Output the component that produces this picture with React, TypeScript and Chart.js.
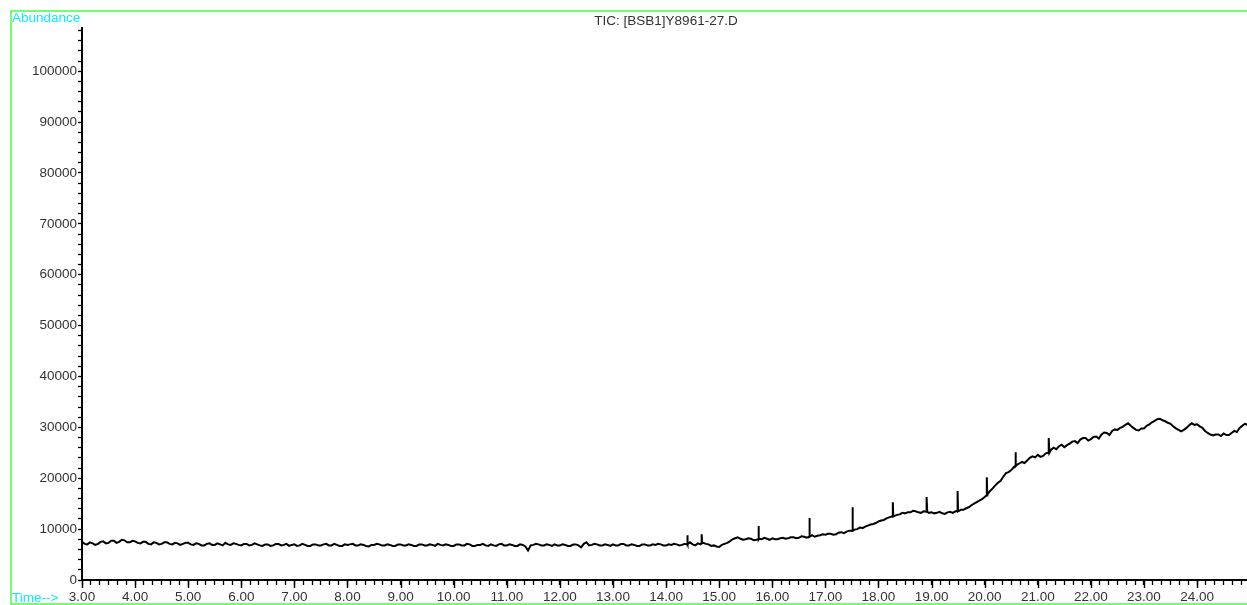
import { useEffect, useRef } from "react";
import { Chart, registerables } from "chart.js";

Chart.register(...registerables);

// ---- text ----
const TITLE = "TIC: [BSB1]Y8961-27.D";
const Y_TITLE = "Abundance";
const X_TITLE = "Time-->";

// ---- axis ranges ----
const X_MIN = 3.0;
const X_MAX = 24.94;
const Y_MIN = 0;
const Y_MAX = 108500;
const Y_MAJOR = 10000;
const Y_MINOR = 2000;
const X_MINOR_PER_MAJOR = 6;

// ---- TIC trace, sampled every 0.05 min starting at 3.00 min ----
const T_START = 3.0;
const T_STEP = 0.05;
const abundance = [
  // 3.00 - 3.95
  7500, 7100, 7000, 7400, 7200, 6900, 7100, 7500, 7600, 7200, 7300, 7700, 7700, 7300, 7500, 7900, 7800, 7400, 7400, 7700,
  // 4
  7600, 7300, 7200, 7500, 7500, 7100, 7000, 7400, 7300, 7000, 7100, 7400, 7400, 7100, 7000, 7300, 7200, 6900, 7100, 7300,
  // 5
  7300, 7000, 6900, 7200, 7100, 6800, 6800, 7100, 7200, 6900, 6900, 7200, 7000, 6800, 7300, 7000, 6900, 7200, 7100, 6900,
  // 6
  6800, 7100, 7100, 6800, 6900, 7200, 7000, 6800, 6700, 7000, 7000, 6700, 6800, 7100, 7100, 6800, 6900, 7100, 6700, 6900,
  // 7
  7000, 6700, 6800, 7100, 6900, 6700, 6700, 7000, 7000, 6800, 6800, 7000, 7100, 6800, 6800, 7100, 6900, 6700, 6700, 7000,
  // 8
  6900, 7000, 7100, 6800, 6800, 7000, 6900, 6700, 6600, 6900, 6900, 7100, 7000, 6800, 6800, 7000, 6900, 6700, 6700, 7000,
  // 9
  7000, 6800, 6800, 7000, 6900, 6700, 6700, 7000, 7000, 6800, 6800, 7000, 6900, 6700, 7100, 6900, 6800, 7000, 6900, 6700,
  // 10
  6700, 7000, 7000, 6800, 6800, 7100, 7000, 6700, 6700, 6900, 6900, 7100, 6800, 6700, 7000, 6800, 6700, 7000, 7100, 6800,
  // 11
  6800, 7000, 6900, 6700, 6700, 7000, 6900, 6600, 5800, 6800, 6900, 7100, 7000, 6800, 6800, 7000, 6900, 6700, 7000, 6800,
  // 12
  6800, 7000, 6900, 6700, 6700, 7000, 7000, 6800, 6400, 7100, 7400, 6800, 6900, 7100, 7000, 6800, 6800, 7000, 6900, 6700,
  // 13
  7000, 6800, 6800, 7100, 7100, 6800, 6800, 7000, 6900, 6700, 6700, 7000, 7000, 6800, 6800, 7000, 6900, 7100, 7000, 6800,
  // 14
  6800, 7000, 6900, 7100, 7000, 6800, 6900, 7100, 7100, 7400, 7000, 6800, 7200, 7000, 7300, 7100, 7000, 6700, 6800, 6600,
  // 15
  6500, 6900, 7100, 7300, 7600, 8000, 8200, 8400, 8100, 7900, 8000, 8200, 8100, 7800, 7900, 8100, 8000, 8300, 8100, 7900,
  // 16
  8200, 8000, 8000, 8200, 8300, 8100, 8200, 8400, 8400, 8200, 8300, 8600, 8500, 8300, 8600, 8800, 8500, 8700, 8800, 9000,
  // 17
  8900, 9100, 9100, 8900, 9000, 9300, 9400, 9200, 9500, 9700, 9700, 9900, 10000, 10300, 10200, 10500, 10700, 10900, 11000, 11200,
  // 18
  11500, 11700, 11800, 12100, 12300, 12500, 12600, 12800, 12900, 13200, 13100, 13300, 13300, 13600, 13500, 13300, 13200, 13500, 13400, 13200,
  // 19
  13300, 13100, 13200, 13400, 13100, 13000, 13300, 13400, 13200, 13500, 13500, 13800, 13800, 14100, 14300, 14700, 15000, 15300, 15600, 15900,
  // 20
  16300, 16800, 17500, 18000, 18600, 19100, 19500, 20300, 21000, 21200, 21600, 22200, 22600, 22900, 23200, 23000, 23500, 24000, 24300, 24100,
  // 21
  24600, 24200, 24400, 24900, 25000, 25600, 26000, 25700, 26300, 26600, 26100, 26500, 26800, 27200, 27300, 26900, 27600, 27900, 27900, 27400,
  // 22
  27700, 28100, 28200, 27800, 28600, 29000, 28900, 28500, 29300, 29600, 29500, 29900, 30100, 30500, 30800, 30300, 29900, 29500, 29400, 29800,
  // 23
  29800, 30300, 30600, 31000, 31300, 31600, 31700, 31400, 31200, 30900, 30700, 30200, 29800, 29500, 29200, 29500, 29900, 30400, 30800, 30500,
  // 24
  30600, 30200, 29900, 29300, 28900, 28600, 28400, 28600, 28600, 28300, 28800, 28500, 28500, 28900, 29300, 29100, 29900, 30300, 30700, 30500,
];

// ---- narrow peaks (time, apex, local baseline) ----
const spikeTimes = [14.4, 14.67, 15.74, 16.7, 17.51, 18.27, 18.91, 19.49, 20.04, 20.58, 21.21];
const spikeTops = [8800, 9000, 10600, 12200, 14300, 15300, 16300, 17500, 20200, 25100, 27900];
const spikeBases = [7000, 7200, 8000, 8500, 9700, 12500, 13400, 13500, 16600, 22400, 25000];

const FONT_FAMILY = "'Liberation Sans', Arial, Helvetica, sans-serif";
const FONT_SIZE = 13.5;

function buildPoints() {
  const pts: { x: number; y: number }[] = abundance.map((v, i) => ({
    x: +(T_START + i * T_STEP).toFixed(3),
    y: v,
  }));
  spikeTimes.forEach((t, i) => {
    pts.push({ x: t - 0.008, y: spikeBases[i] });
    pts.push({ x: t, y: spikeTops[i] });
    pts.push({ x: t + 0.008, y: spikeBases[i] });
  });
  pts.sort((a, b) => a.x - b.x);
  return pts;
}

const isMajorX = (v: number) => Math.abs(v - Math.round(v)) < 1e-6;

const decorPlugin = {
  id: "decor",
  afterDraw(chart: any) {
    const ctx = chart.ctx as CanvasRenderingContext2D;
    ctx.save();
    // longer tick marks at whole minutes, positioned by the x scale
    const xs = chart.scales.x;
    const bottom = chart.chartArea.bottom;
    ctx.strokeStyle = "#000";
    ctx.lineWidth = 1.4;
    xs.ticks.forEach((t: any) => {
      if (!isMajorX(t.value)) return;
      const px = Math.round(xs.getPixelForValue(t.value)) + 0.5;
      ctx.beginPath();
      ctx.moveTo(px, bottom);
      ctx.lineTo(px, bottom + 8);
      ctx.stroke();
    });
    // frame
    ctx.strokeStyle = "#40ff40";
    ctx.lineWidth = 1.5;
    ctx.strokeRect(11, 11, 1300, 593);
    // texts
    ctx.font = `${FONT_SIZE}px ${FONT_FAMILY}`;
    ctx.textBaseline = "middle";
    ctx.textAlign = "left";
    ctx.fillStyle = "#10e8ff";
    ctx.fillText(Y_TITLE, 12, 18);
    ctx.fillText(X_TITLE, 12, 598);
    ctx.fillStyle = "#333333";
    ctx.textAlign = "center";
    ctx.fillText(TITLE, 666, 21);
    ctx.restore();
  },
};

export default function App() {
  const ref = useRef<HTMLCanvasElement | null>(null);

  useEffect(() => {
    document.body.style.margin = "0";
    const canvas = ref.current;
    if (!canvas) return;
    const tickFont = { family: FONT_FAMILY, size: FONT_SIZE };
    const chart = new Chart(canvas, {
      type: "line",
      data: {
        datasets: [
          {
            data: buildPoints(),
            borderColor: "#000000",
            borderWidth: 2,
            pointRadius: 0,
            tension: 0,
          },
        ],
      },
      options: {
        animation: false,
        responsive: false,
        devicePixelRatio: 1,
        layout: { padding: { left: 0, top: 28, right: 0, bottom: 0 } },
        plugins: {
          legend: { display: false },
          title: { display: false },
          tooltip: { enabled: false },
        },
        scales: {
          x: {
            type: "linear",
            position: "bottom",
            min: X_MIN,
            max: X_MAX,
            afterBuildTicks: (scale: any) => {
              const ticks = [];
              for (let i = 0; ; i++) {
                const v = X_MIN + i / X_MINOR_PER_MAJOR;
                if (v > X_MAX + 1e-9) break;
                ticks.push({ value: v });
              }
              scale.ticks = ticks;
            },
            afterFit: (scale: any) => {
              scale.height = 25;
            },
            ticks: {
              autoSkip: false,
              maxRotation: 0,
              padding: 4,
              color: "#333",
              font: tickFont,
              callback: (v: any) => (isMajorX(Number(v)) ? Number(v).toFixed(2) : ""),
            },
            grid: {
              drawOnChartArea: false,
              drawTicks: true,
              tickLength: 5,
              tickColor: "#000",
              tickWidth: 1.3,
            },
            border: { display: true, color: "#000", width: 2 },
          },
          y: {
            type: "linear",
            position: "left",
            min: Y_MIN,
            max: Y_MAX,
            afterBuildTicks: (scale: any) => {
              const ticks = [];
              for (let v = Y_MIN; v <= Y_MAX; v += Y_MINOR) ticks.push({ value: v });
              scale.ticks = ticks;
            },
            afterFit: (scale: any) => {
              scale.width = 82;
            },
            ticks: {
              autoSkip: false,
              padding: 1,
              color: "#333",
              font: tickFont,
              callback: (v: any) => (Number(v) % Y_MAJOR === 0 ? String(v) : ""),
            },
            grid: {
              drawOnChartArea: false,
              drawTicks: true,
              tickLength: 4,
              tickColor: "#000",
              tickWidth: 1.3,
            },
            border: { display: true, color: "#000", width: 2 },
          },
        },
      },
      plugins: [decorPlugin],
    });
    return () => chart.destroy();
  }, []);

  return (
    <div style={{ position: "absolute", left: 0, top: 0, width: 1247, height: 605, background: "#fff" }}>
      <canvas ref={ref} width={1247} height={605} style={{ width: 1247, height: 605, display: "block" }} />
    </div>
  );
}
